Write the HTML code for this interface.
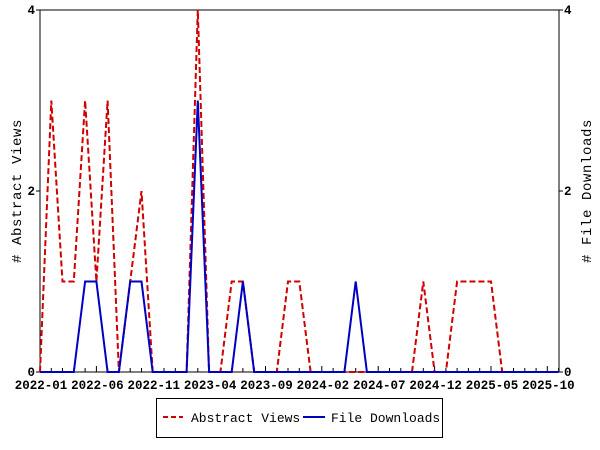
<!DOCTYPE html><html><head><style>body{margin:0;background:#fff}svg{display:block}text{font-family:"Liberation Mono","DejaVu Sans Mono",monospace}</style></head><body>
<svg id="s" width="600" height="450" xmlns="http://www.w3.org/2000/svg">
<rect x="40" y="10" width="519" height="362" fill="none" stroke="#000" stroke-width="1"/>
<g id="ticks" stroke="#000"></g>
<g font-size="12.5" font-weight="bold" fill="#000" id="lbl">
<text x="35" y="376" text-anchor="end">0</text><text x="35" y="195" text-anchor="end">2</text><text x="35" y="14" text-anchor="end">4</text>
<text x="564" y="376">0</text><text x="564" y="195">2</text><text x="564" y="14">4</text>
</g>
<text transform="translate(21,191) rotate(-90)" font-size="14" letter-spacing="0.6" text-anchor="middle">#  Abstract Views</text>
<text transform="translate(591,191) rotate(-90)" font-size="14" letter-spacing="0.6" text-anchor="middle"># File Downloads</text>
<polyline id="r" fill="none" stroke="#d00000" stroke-width="2" stroke-dasharray="6,3"/>
<polyline id="b" fill="none" stroke="#0000c0" stroke-width="2"/>
<rect x="156.5" y="398.5" width="286" height="39" fill="#fff" stroke="#000"/>
<line x1="163" y1="417" x2="183" y2="417" stroke="#d00000" stroke-width="2" stroke-dasharray="5,3"/>
<text x="191" y="422" font-size="13">Abstract Views</text>
<line x1="303" y1="417" x2="325" y2="417" stroke="#0000c0" stroke-width="2"/>
<text x="331" y="422" font-size="13">File Downloads</text>
</svg>
<script>
var X=i=>40+i*11.274,Y=v=>372-v*90.5;
var r=[0,3,1,1,3,1,3,0,1,2,0,0,0,0,4,0,0,1,1,0,0,0,1,1,0,0,0,0,0,0,0,0,0,0,1,0,0,1,1,1,1,0,0,0,0,0,0];
var b=[0,0,0,0,1,1,0,0,1,1,0,0,0,0,3,0,0,0,1,0,0,0,0,0,0,0,0,0,1,0,0,0,0,0,0,0,0,0,0,0,0,0,0,0,0,0,0];
document.getElementById('r').setAttribute('points',r.map((v,i)=>X(i).toFixed(1)+','+Y(v)).join(' '));
document.getElementById('b').setAttribute('points',b.map((v,i)=>X(i).toFixed(1)+','+Y(v)).join(' '));
var t='',l='',n=['2022-01','2022-06','2022-11','2023-04','2023-09','2024-02','2024-07','2024-12','2025-05','2025-10'];
for(var i=0;i<=46;i++){var x=X(i).toFixed(1);t+='<line x1="'+x+'" y1="372" x2="'+x+'" y2="'+(i%5==0?366:368)+'"/>';}
[0,2,4].forEach(v=>{t+='<line x1="36" y1="'+Y(v)+'" x2="40" y2="'+Y(v)+'"/><line x1="559" y1="'+Y(v)+'" x2="563" y2="'+Y(v)+'"/>';});
n.forEach((s,k)=>{l+='<text x="'+(X(k*5)+1)+'" y="389" text-anchor="middle">'+s+'</text>';});
document.getElementById('ticks').innerHTML=t;
document.getElementById('lbl').insertAdjacentHTML('beforeend',l);
</script>
</body></html>
